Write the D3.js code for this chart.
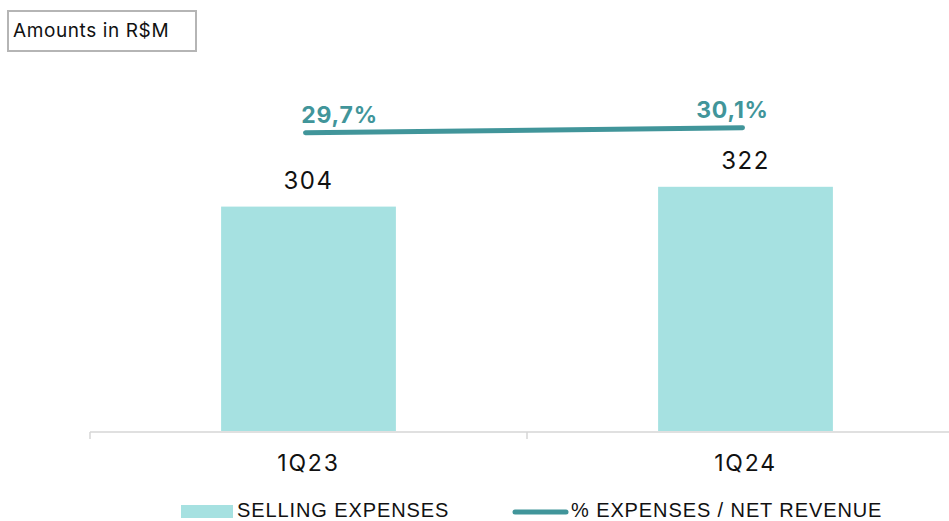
<!DOCTYPE html>
<html>
<head>
<meta charset="UTF-8">
<title>Selling expenses</title>
<script src="https://cdnjs.cloudflare.com/ajax/libs/d3/7.8.5/d3.min.js"></script>
<style>
body { margin:0; background:#fff; }
text { font-family: Inter, "Noto Sans", sans-serif; }
.bar { fill:#a6e1e1; }
.ratio { fill:none; stroke:#41959a; stroke-width:5; stroke-linecap:round; }
.pct { fill:#41959a; font-weight:700; font-size:23px; letter-spacing:0.8px; }
.val { fill:#111; font-size:24px; letter-spacing:1.5px; }
.cat { fill:#111; font-size:23px; letter-spacing:1.8px; }
.legend text { fill:#111; font-size:20px; letter-spacing:0.9px; font-family:"Liberation Sans", Arial, sans-serif; }
</style>
</head>
<body>
<div id="chart"></div>
<script>
var width = 949, height = 521;

// data
var quarters = ["1Q23", "1Q24"];
var sellingExpenses = [304, 322];
var pctOfRevenue = [29.7, 30.1];
var pctLabels = ["29,7%", "30,1%"];

var svg = d3.select("#chart").append("svg").attr("width", width).attr("height", height);

var x = d3.scaleBand().domain(quarters).range([90, 964]).paddingInner(0.6).paddingOuter(0.3);
var y = d3.scaleLinear().domain([100, 400]).range([431, 101]);      // bars
var yp = d3.scaleLinear().domain([20, 40]).range([254, 4]);          // % line

// title box
svg.append("rect").attr("x", 8).attr("y", 11).attr("width", 188).attr("height", 40)
  .attr("fill", "#fff").attr("stroke", "#b5b5b5").attr("stroke-width", 2);
svg.append("text").attr("x", 13).attr("y", 37).attr("font-size", "19px").attr("fill", "#111")
  .attr("letter-spacing", "0.6px")
  .text("Amounts in R$M");

// bars
svg.selectAll(".bar").data(sellingExpenses).enter().append("rect")
  .attr("class", "bar")
  .attr("x", function(d, i){ return x(quarters[i]); })
  .attr("width", x.bandwidth())
  .attr("y", function(d){ return y(d); })
  .attr("height", function(d){ return y(100) - y(d); });

svg.selectAll(".val").data(sellingExpenses).enter().append("text")
  .attr("class", "val")
  .attr("text-anchor", "middle")
  .attr("x", function(d, i){ return x(quarters[i]) + x.bandwidth() / 2; })
  .attr("y", function(d){ return y(d) - 18; })
  .text(function(d){ return d; });

// axis: baseline with ticks on band edges
var step = x.step();
var edges = [90, 90 + step, 90 + 2 * step];
svg.append("line").attr("x1", 90).attr("x2", width).attr("y1", 432).attr("y2", 432)
  .attr("stroke", "#d6d6d6").attr("stroke-width", 1.5);
svg.selectAll(".tick").data(edges).enter().append("line")
  .attr("x1", function(d){ return d; }).attr("x2", function(d){ return d; })
  .attr("y1", 432).attr("y2", 439)
  .attr("stroke", "#d6d6d6").attr("stroke-width", 1.5);

svg.selectAll(".cat").data(quarters).enter().append("text")
  .attr("class", "cat")
  .attr("text-anchor", "middle")
  .attr("x", function(d){ return x(d) + x.bandwidth() / 2; })
  .attr("y", 471)
  .text(function(d){ return d; });

// % line
var pts = pctOfRevenue.map(function(v, i){ return [x(quarters[i]) + x.bandwidth() / 2 - 3, yp(v)]; });
svg.append("path").attr("class", "ratio").attr("d", d3.line()(pts));

svg.selectAll(".pct").data(pctLabels).enter().append("text")
  .attr("class", "pct")
  .attr("text-anchor", "middle")
  .attr("x", function(d, i){ return pts[i][0] + (i === 0 ? 34 : -10); })
  .attr("y", function(d, i){ return pts[i][1] - 10; })
  .text(function(d){ return d; });

// legend
var lg = svg.append("g").attr("class", "legend");
lg.append("rect").attr("x", 181).attr("y", 505).attr("width", 52).attr("height", 13).attr("fill", "#a6e1e1");
lg.append("text").attr("x", 237).attr("y", 517).text("SELLING EXPENSES");
lg.append("line").attr("x1", 515).attr("x2", 566).attr("y1", 512).attr("y2", 512)
  .attr("stroke", "#41959a").attr("stroke-width", 5).attr("stroke-linecap", "round");
lg.append("text").attr("x", 571).attr("y", 517).text("% EXPENSES / NET REVENUE");
</script>
</body>
</html>
